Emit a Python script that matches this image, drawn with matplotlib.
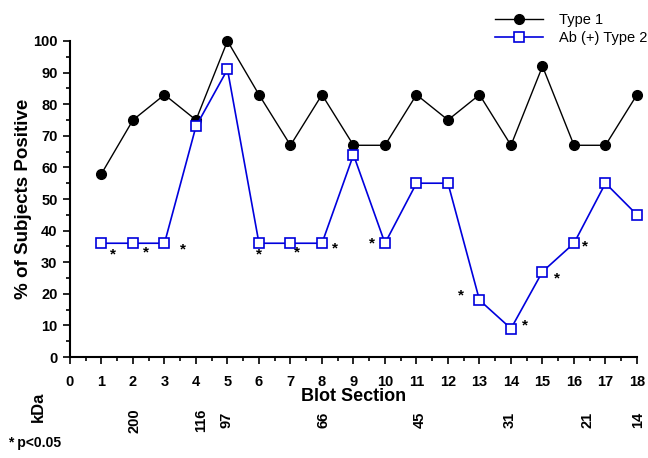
import matplotlib
matplotlib.use('Agg')
import matplotlib.pyplot as plt
from matplotlib.ticker import MultipleLocator

plt.rcParams['font.family'] = ['Liberation Sans', 'DejaVu Sans']

# blot sections and % positive
sections = list(range(1, 19))
type1 = [58, 75, 83, 75, 100, 83, 67, 83, 67, 67, 83, 75, 83, 67, 92, 67, 67, 83]
type2 = [36, 36, 36, 73, 91, 36, 36, 36, 64, 36, 55, 55, 18, 9, 27, 36, 55, 45]

# significance marks (p<0.05)
star_x = [1.35, 2.4, 3.6, 6.0, 7.2, 8.4, 9.6, 12.4, 14.45, 15.45, 16.35]
star_y = [32.5, 33, 34, 32.5, 33, 34.5, 36, 19.5, 10, 25, 35]

# molecular weight markers
kda_x = [2.05, 4.17, 4.97, 8.06, 11.1, 13.97, 16.42, 18.03]
kda_labels = ['200', '116', '97', '66', '45', '31', '21', '14']

fig = plt.figure(figsize=(6.48, 4.58), dpi=100)
ax = fig.add_axes([0.108, 0.2205, 0.875, 0.69])

ax.plot(sections, type1, color='black', lw=1.0, marker='o', ms=7,
        mfc='black', mec='black', label='Type 1', clip_on=False, zorder=3)
ax.plot(sections, type2, color='#0000dd', lw=1.2, marker='s', ms=7.5,
        mfc='white', mec='#0000dd', mew=1.2, label='Ab (+) Type 2',
        clip_on=False, zorder=4)

for sx, sy in zip(star_x, star_y):
    ax.text(sx, sy, '*', ha='center', va='center', fontsize=11,
            fontweight='bold')

ax.set_xlim(0, 18)
ax.set_ylim(0, 100)
ax.xaxis.set_major_locator(MultipleLocator(1))
ax.xaxis.set_minor_locator(MultipleLocator(0.5))
ax.yaxis.set_major_locator(MultipleLocator(10))
ax.yaxis.set_minor_locator(MultipleLocator(5))
ax.tick_params(which='major', length=5, width=1.2, labelsize=10.5)
ax.tick_params(which='minor', length=3, width=1.2)
for lab in ax.get_xticklabels() + ax.get_yticklabels():
    lab.set_fontweight('bold')
ax.tick_params(axis='x', pad=8)
ax.tick_params(axis='y', pad=4)

for s in ['top', 'right']:
    ax.spines[s].set_visible(False)
for s in ['left', 'bottom']:
    ax.spines[s].set_linewidth(1.5)

ax.set_ylabel('% of Subjects Positive', fontsize=13.5, fontweight='bold',
              labelpad=1)
ax.set_xlabel('Blot Section', fontsize=13, fontweight='bold', labelpad=-1)

for kx, kl in zip(kda_x, kda_labels):
    ax.text(kx, -20, kl, rotation=90, ha='center', va='center', fontsize=10.5,
            fontweight='bold', clip_on=False)

fig.text(38 / 648, 1 - 407 / 458, 'kDa', rotation=90, ha='center', va='center',
         fontsize=12, fontweight='bold')
fig.text(8 / 648, 1 - 443 / 458, '* p<0.05', ha='left', va='center',
         fontsize=10, fontweight='bold')

ax.legend(loc='upper left', bbox_to_anchor=(486 / 648, 1 - 4 / 458),
          bbox_transform=fig.transFigure, frameon=False, fontsize=10.5,
          handlelength=3.3, handletextpad=1.1, labelspacing=0.3,
          borderaxespad=0.2)

fig.savefig('out.png', dpi=100)
